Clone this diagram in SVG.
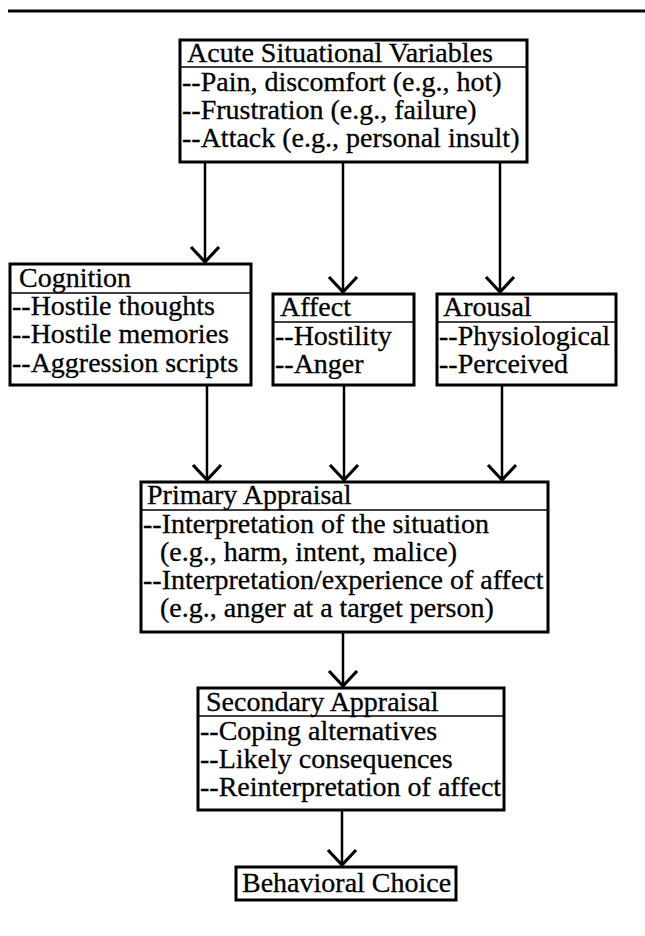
<svg xmlns="http://www.w3.org/2000/svg" width="645" height="936" viewBox="0 0 645 936">
<style>
text{font-family:"Liberation Serif","Times New Roman",serif;font-size:28px;fill:#000;stroke:#000;stroke-width:0.3}
.box{fill:#fff;stroke:#000;stroke-width:3}
.div{stroke:#000;stroke-width:1.6}
.con{stroke:#000;stroke-width:2.5;fill:none;marker-end:url(#arr)}
</style>
<defs>
<marker id="arr" markerUnits="userSpaceOnUse" viewBox="-18 -17 21 34" refX="0" refY="0" markerWidth="21" markerHeight="34" orient="auto">
<path d="M-15,-14 L0,0 L-15,14" fill="none" stroke="#000" stroke-width="3.2"/>
</marker>
</defs>
<rect width="645" height="936" fill="#fff"/>
<line x1="8" y1="11" x2="645" y2="11" stroke="#000" stroke-width="3"/>

<g id="connectors">
<line class="con" x1="205" y1="162" x2="205" y2="262"/>
<line class="con" x1="343" y1="162" x2="343" y2="292"/>
<line class="con" x1="500" y1="162" x2="500" y2="292"/>
<line class="con" x1="207" y1="385" x2="207" y2="480"/>
<line class="con" x1="344" y1="385" x2="344" y2="480"/>
<line class="con" x1="502" y1="385" x2="502" y2="480"/>
<line class="con" x1="343" y1="632" x2="343" y2="686"/>
<line class="con" x1="342" y1="810" x2="342" y2="865"/>
</g>

<g id="acute">
<rect class="box" x="180" y="40" width="347" height="122"/>
<line class="div" x1="180" y1="67" x2="527" y2="67"/>
<text x="187" y="62">Acute Situational Variables</text>
<text x="182" y="91">--Pain, discomfort (e.g., hot)</text>
<text x="182" y="119">--Frustration (e.g., failure)</text>
<text x="182" y="147">--Attack (e.g., personal insult)</text>
</g>

<g id="cognition">
<rect class="box" x="10" y="264" width="241" height="121"/>
<line class="div" x1="10" y1="293" x2="251" y2="293"/>
<text x="19" y="287">Cognition</text>
<text x="12" y="315">--Hostile thoughts</text>
<text x="12" y="343">--Hostile memories</text>
<text x="12" y="372">--Aggression scripts</text>
</g>

<g id="affect">
<rect class="box" x="273" y="294" width="141" height="91"/>
<line class="div" x1="273" y1="322" x2="414" y2="322"/>
<text x="280" y="316">Affect</text>
<text x="275" y="345">--Hostility</text>
<text x="275" y="373">--Anger</text>
</g>

<g id="arousal">
<rect class="box" x="437" y="294" width="179" height="91"/>
<line class="div" x1="437" y1="322" x2="616" y2="322"/>
<text x="443" y="316">Arousal</text>
<text x="439" y="345">--Physiological</text>
<text x="439" y="373">--Perceived</text>
</g>

<g id="primary">
<rect class="box" x="141" y="482" width="407" height="150"/>
<line class="div" x1="141" y1="510" x2="548" y2="510"/>
<text x="147" y="504">Primary Appraisal</text>
<text x="143" y="533">--Interpretation of the situation</text>
<text x="160" y="561">(e.g., harm, intent, malice)</text>
<text x="143" y="589">--Interpretation/experience of affect</text>
<text x="160" y="617">(e.g., anger at a target person)</text>
</g>

<g id="secondary">
<rect class="box" x="198" y="688" width="306" height="122"/>
<line class="div" x1="198" y1="716" x2="504" y2="716"/>
<text x="206" y="711">Secondary Appraisal</text>
<text x="200" y="740">--Coping alternatives</text>
<text x="200" y="768">--Likely consequences</text>
<text x="200" y="796">--Reinterpretation of affect</text>
</g>

<g id="behavioral">
<rect class="box" x="236" y="867" width="220" height="33"/>
<text x="242" y="892">Behavioral Choice</text>
</g>
</svg>
